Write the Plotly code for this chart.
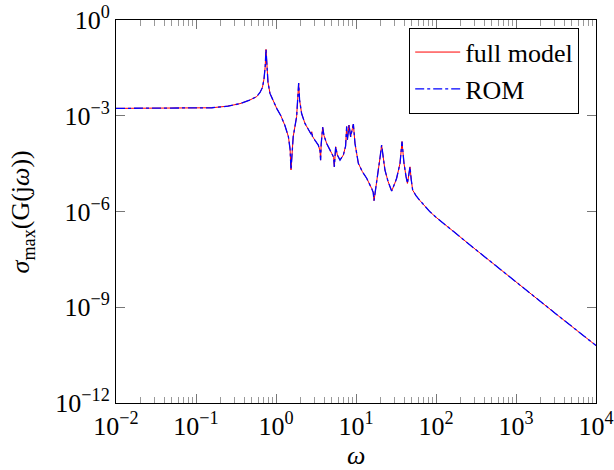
import plotly.graph_objects as go

# frequency points (rad/s)
full_omega = [0.01, 0.0316, 0.1, 0.158, 0.251, 0.355, 0.468, 0.575, 0.631, 0.676,
              0.708, 0.733, 0.750, 0.767, 0.794, 0.841, 0.912, 1.02, 1.15, 1.29,
              1.43, 1.50, 1.54, 1.58, 1.64, 1.81, 1.88, 1.92, 1.97, 2.09,
              2.30, 2.51, 2.75, 2.80, 2.85, 3.09, 3.38, 3.55, 3.61, 3.67,
              3.83, 3.98, 4.30, 4.97, 5.25, 5.36, 5.47, 5.57, 5.85, 6.31,
              6.95, 7.41, 7.64, 7.80, 8.18, 8.57, 9.02, 9.27, 9.72, 10.7,
              12.0, 13.6, 15.7, 16.4, 16.8, 17.6, 19.0, 20.0, 20.9, 21.9,
              23.0, 25.1, 27.9, 30.2, 32.2, 35.5, 36.7, 37.6, 38.5, 39.8,
              42.2, 43.9, 45.7, 47.3, 49.0, 51.1, 56.2, 63.1, 84.1, 100,
              316, 1000, 3162, 10000]

full_sigma = [1.70e-3, 1.70e-3, 1.72e-3, 1.78e-3, 2.00e-3, 2.40e-3, 3.09e-3, 3.98e-3, 5.37e-3, 7.59e-3,
              1.41e-2, 3.55e-2, 1.20e-1, 3.16e-2, 1.12e-2, 5.01e-3, 3.02e-3, 1.70e-3, 1.00e-3, 5.01e-4,
              2.19e-4, 8.91e-5, 2.00e-5, 7.94e-5, 2.19e-4, 9.33e-4, 3.16e-3, 1.05e-2, 3.16e-3, 1.17e-3,
              5.75e-4, 3.80e-4, 2.63e-4, 3.16e-4, 2.29e-4, 1.66e-4, 1.20e-4, 7.94e-5, 4.07e-5, 1.26e-4,
              4.37e-4, 2.40e-4, 1.35e-4, 6.61e-5, 5.01e-5, 2.51e-5, 6.31e-5, 1.07e-4, 5.89e-5, 4.07e-5,
              5.89e-5, 1.12e-4, 4.57e-4, 1.74e-4, 5.13e-4, 2.19e-4, 3.98e-4, 5.50e-4, 1.35e-4, 3.24e-5,
              1.78e-5, 1.10e-5, 5.25e-6, 3.98e-6, 2.19e-6, 4.68e-6, 2.00e-5, 5.01e-5, 1.20e-4, 5.01e-5,
              2.00e-5, 8.91e-6, 4.37e-6, 7.08e-6, 1.10e-5, 3.24e-5, 7.94e-5, 1.55e-4, 7.94e-5, 3.24e-5,
              1.26e-5, 7.59e-6, 1.41e-5, 2.51e-5, 1.00e-5, 4.68e-6, 3.16e-6, 2.19e-6, 9.77e-7, 6.61e-7,
              6.31e-8, 6.03e-9, 6.17e-10, 6.31e-11]

# reduced order model (visually identical to the full model)
rom_omega = list(full_omega)
rom_sigma = list(full_sigma)

series_names = ["full model", "ROM"]

x_tickvals = [1e-2, 1e-1, 1e0, 1e1, 1e2, 1e3, 1e4]
x_ticktext = ["10<sup>−2</sup>", "10<sup>−1</sup>", "10<sup>0</sup>", "10<sup>1</sup>",
              "10<sup>2</sup>", "10<sup>3</sup>", "10<sup>4</sup>"]
y_tickvals = [1e0, 1e-3, 1e-6, 1e-9, 1e-12]
y_ticktext = ["10<sup>0</sup>", "10<sup>−3</sup>", "10<sup>−6</sup>", "10<sup>−9</sup>", "10<sup>−12</sup>"]

x_title = "<i>ω</i>"
y_title = "<i>σ</i><sub>max</sub>(G(j<i>ω</i>))"

FONT = "Liberation Serif"
FS = 26

fig = go.Figure()
fig.add_trace(go.Scatter(x=full_omega, y=full_sigma, mode="lines", name=series_names[0],
                         line=dict(color="red", width=1)))
fig.add_trace(go.Scatter(x=rom_omega, y=rom_sigma, mode="lines", name=series_names[1],
                         line=dict(color="blue", width=1.3, dash="dashdot")))

axis_common = dict(showline=True, linecolor="black", linewidth=1, mirror="ticks",
                   ticks="inside", ticklen=9, tickwidth=1, tickcolor="#777777",
                   showgrid=False, zeroline=False, automargin=False,
                   tickfont=dict(family=FONT, size=FS, color="black"))

fig.update_xaxes(type="log", range=[-2, 4], tickvals=x_tickvals, ticktext=x_ticktext,
                 minor=dict(ticks="inside", ticklen=6, tickcolor="#999999", dtick="D1", showgrid=False),
                 **axis_common)
fig.update_yaxes(type="log", range=[-12, 0], tickvals=y_tickvals, ticktext=y_ticktext,
                 **axis_common)

# axis titles placed as annotations for precise positioning
fig.add_annotation(text=x_title, xref="paper", yref="paper", x=0.5, y=-0.136,
                   xanchor="center", yanchor="middle", showarrow=False,
                   font=dict(family=FONT, size=FS, color="black"))
fig.add_annotation(text=y_title, xref="paper", yref="paper", x=-0.196, y=0.5,
                   xanchor="center", yanchor="middle", showarrow=False, textangle=-90,
                   font=dict(family=FONT, size=FS, color="black"))

fig.update_layout(
    width=614, height=470,
    margin=dict(l=116, r=18, t=20, b=67),
    plot_bgcolor="white", paper_bgcolor="white",
    font=dict(family=FONT, color="black"),
    showlegend=True,
    legend=dict(x=0.965, y=0.98, xanchor="right", yanchor="top",
                bordercolor="black", borderwidth=1, bgcolor="white",
                font=dict(family=FONT, size=FS, color="black"),
                itemwidth=45, tracegroupgap=0),
)

fig.write_html("out.html")
